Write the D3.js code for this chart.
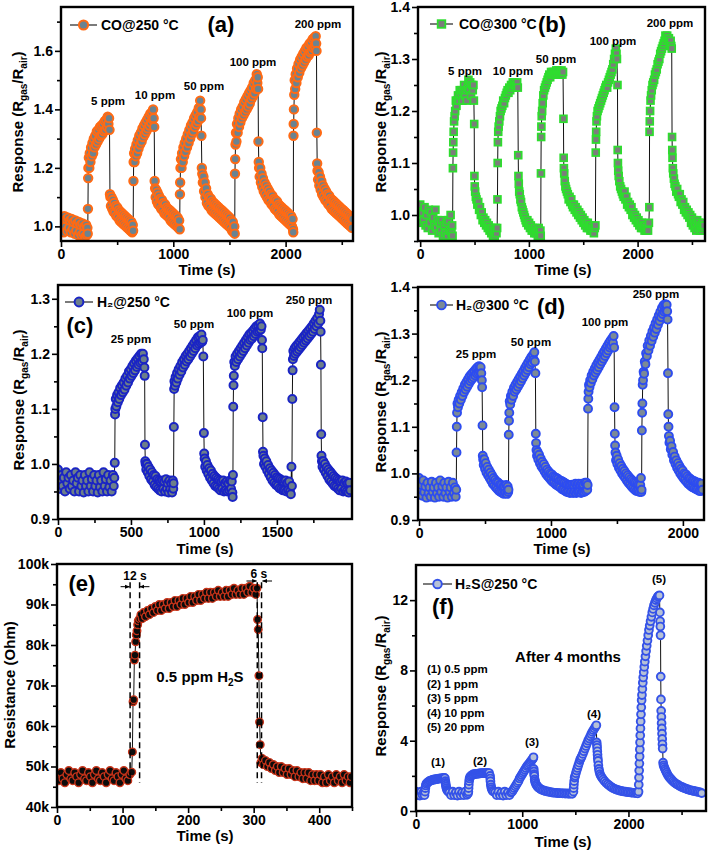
<!DOCTYPE html>
<html><head><meta charset="utf-8">
<script src="https://cdn.jsdelivr.net/npm/d3@7/dist/d3.min.js"></script>
<style>html,body{margin:0;padding:0;background:#fff;}svg{display:block;}</style>
</head><body>
<script>
// ---------------- DATA (time s, value) ----------------
const aData = [[0,1.03],[8,0.99],[16,1.02],[24,0.98],[32,1.035],[40,1.0],[48,1.025],[56,0.985],[64,1.03],[72,0.995],[80,1.02],[88,0.98],[96,1.025],[104,0.99],[112,1.015],[120,0.975],[128,1.02],[136,0.985],[144,1.01],[152,0.97],[160,1.015],[168,0.98],[176,1.005],[184,0.97],[192,1.01],[200,0.975],[208,1.0],[216,0.965],[224,1.005],[230,0.97],[235,0.995],[238,0.975],
[240,1.06],[242,1.165],[244,1.2],[248,1.235],[252,1.2],[256,1.25],[262,1.22],[268,1.27],[274,1.24],[280,1.285],[286,1.25],[292,1.3],[298,1.27],[305,1.31],[312,1.28],[319,1.325],[326,1.29],[333,1.33],[340,1.3],[347,1.34],[354,1.31],[361,1.345],[368,1.315],[375,1.35],[382,1.325],[389,1.36],[396,1.33],[403,1.365],[410,1.34],[416,1.375],[422,1.35],[428,1.37],[432,1.33],
[436,1.11],[440,1.1],[445,1.07],[450,1.1],[456,1.06],[462,1.09],[468,1.05],[474,1.08],[480,1.045],[487,1.07],[494,1.035],[501,1.065],[508,1.03],[515,1.055],[522,1.02],[529,1.05],[536,1.015],[543,1.045],[550,1.01],[557,1.04],[564,1.005],[571,1.035],[578,1.0],[585,1.03],[592,0.995],[599,1.025],[606,0.99],[613,1.02],[620,0.985],[627,1.015],[634,0.98],[639,1.005],[642,0.985],
[645,1.155],[647,1.22],[651,1.25],[655,1.22],[660,1.265],[666,1.24],[672,1.28],[678,1.25],[684,1.295],[690,1.265],[697,1.31],[704,1.28],[711,1.32],[718,1.29],[725,1.335],[732,1.305],[739,1.345],[746,1.315],[753,1.355],[760,1.325],[767,1.365],[774,1.335],[781,1.375],[788,1.345],[795,1.385],[802,1.355],[809,1.39],[815,1.365],[820,1.4],[825,1.37],[830,1.34],
[834,1.155],[838,1.13],[843,1.1],[848,1.125],[854,1.085],[860,1.115],[866,1.075],[872,1.105],[878,1.07],[885,1.095],[892,1.06],[899,1.09],[906,1.055],[913,1.08],[920,1.045],[927,1.075],[934,1.04],[941,1.065],[948,1.035],[955,1.06],[962,1.03],[969,1.055],[976,1.02],[983,1.05],[990,1.015],[997,1.045],[1004,1.01],[1011,1.04],[1018,1.005],[1025,1.035],[1032,1.0],[1039,1.03],[1046,0.995],[1052,1.02],[1057,0.99],
[1059,1.11],[1061,1.15],[1064,1.2],[1068,1.23],[1073,1.2],[1078,1.25],[1084,1.22],[1090,1.27],[1096,1.24],[1102,1.285],[1108,1.255],[1115,1.3],[1122,1.27],[1129,1.315],[1136,1.285],[1143,1.33],[1150,1.3],[1157,1.345],[1164,1.315],[1171,1.355],[1178,1.325],[1185,1.37],[1192,1.34],[1199,1.38],[1206,1.35],[1213,1.39],[1220,1.36],[1227,1.405],[1233,1.375],[1239,1.43],[1244,1.4],[1247,1.37],
[1250,1.31],[1254,1.2],[1258,1.18],[1263,1.15],[1268,1.17],[1274,1.12],[1280,1.15],[1286,1.1],[1292,1.13],[1299,1.08],[1306,1.11],[1313,1.07],[1320,1.1],[1327,1.065],[1334,1.095],[1341,1.055],[1348,1.085],[1355,1.05],[1362,1.08],[1369,1.045],[1376,1.075],[1383,1.04],[1390,1.07],[1397,1.035],[1404,1.065],[1411,1.03],[1418,1.06],[1425,1.025],[1432,1.055],[1439,1.02],[1446,1.05],[1453,1.015],[1460,1.045],[1467,1.01],[1474,1.04],[1481,1.005],[1488,1.035],[1495,1.0],[1502,1.03],[1509,0.995],[1516,1.02],[1523,0.985],[1530,1.015],[1537,0.98],[1543,1.0],[1547,0.975],
[1549,1.18],[1551,1.23],[1554,1.28],[1558,1.32],[1562,1.29],[1567,1.35],[1573,1.32],[1579,1.37],[1585,1.34],[1591,1.385],[1597,1.355],[1604,1.4],[1611,1.37],[1618,1.41],[1625,1.38],[1632,1.425],[1639,1.39],[1646,1.435],[1653,1.4],[1660,1.445],[1667,1.41],[1674,1.455],[1681,1.42],[1688,1.465],[1695,1.435],[1702,1.475],[1709,1.445],[1716,1.49],[1723,1.455],[1730,1.5],[1737,1.47],[1743,1.52],[1748,1.49],[1752,1.51],[1755,1.47],
[1758,1.29],[1761,1.22],[1764,1.2],[1769,1.17],[1774,1.2],[1780,1.15],[1786,1.18],[1792,1.135],[1798,1.165],[1805,1.12],[1812,1.15],[1819,1.11],[1826,1.14],[1833,1.1],[1840,1.13],[1847,1.09],[1854,1.12],[1861,1.085],[1868,1.11],[1875,1.075],[1882,1.105],[1889,1.07],[1896,1.095],[1903,1.06],[1910,1.09],[1917,1.055],[1924,1.085],[1931,1.05],[1938,1.075],[1945,1.04],[1952,1.07],[1959,1.035],[1966,1.065],[1973,1.03],[1980,1.06],[1987,1.025],[1994,1.055],[2001,1.02],[2008,1.05],[2015,1.015],[2022,1.045],[2029,1.01],[2036,1.04],[2043,1.005],[2050,1.035],[2057,1.0],[2062,1.025],[2066,0.99],[2068,0.98],
[2070,1.31],[2072,1.35],[2074,1.4],[2077,1.45],[2081,1.5],[2085,1.47],[2090,1.52],[2096,1.49],[2102,1.54],[2108,1.51],[2115,1.555],[2122,1.525],[2129,1.57],[2136,1.54],[2143,1.58],[2150,1.55],[2157,1.59],[2164,1.56],[2171,1.6],[2178,1.57],[2185,1.61],[2192,1.58],[2199,1.615],[2206,1.585],[2213,1.625],[2220,1.595],[2227,1.63],[2234,1.6],[2241,1.64],[2248,1.61],[2255,1.645],[2262,1.615],[2268,1.65],[2272,1.625],[2275,1.6],
[2278,1.32],[2281,1.215],[2284,1.19],[2289,1.16],[2294,1.185],[2300,1.14],[2306,1.17],[2312,1.125],[2318,1.155],[2325,1.11],[2332,1.14],[2339,1.1],[2346,1.13],[2353,1.09],[2360,1.12],[2367,1.085],[2374,1.11],[2381,1.075],[2388,1.105],[2395,1.07],[2402,1.095],[2409,1.06],[2416,1.09],[2423,1.055],[2430,1.085],[2437,1.05],[2444,1.08],[2451,1.045],[2458,1.075],[2465,1.04],[2472,1.07],[2479,1.035],[2486,1.065],[2493,1.03],[2500,1.06],[2507,1.025],[2514,1.055],[2521,1.02],[2528,1.05],[2535,1.015],[2542,1.045],[2549,1.01],[2556,1.04],[2563,1.005],[2570,1.035],[2577,1.0],[2584,1.03],[2591,0.995],[2597,1.025]];

const bData = [[0,1.02],[10,0.985],[20,1.005],[30,0.99],[40,1.015],[50,0.98],[60,1.0],[70,0.975],[80,1.01],[90,0.985],[100,1.005],[110,0.97],[120,0.995],[130,0.98],[140,1.01],[150,0.975],[160,0.99],[170,0.965],[180,0.985],[190,0.97],[200,0.99],[210,0.96],[220,0.98],[230,0.965],[240,0.985],[250,0.96],[260,0.99],[270,0.97],[280,1.0],[288,0.965],[294,0.98],[298,0.96],
[301,1.09],[303,1.12],[305,1.14],[308,1.16],[312,1.18],[317,1.19],[322,1.2],[328,1.22],[334,1.21],[340,1.22],[348,1.23],[356,1.22],[364,1.24],[372,1.23],[380,1.24],[388,1.22],[396,1.235],[404,1.25],[412,1.23],[420,1.24],[428,1.22],[436,1.245],[444,1.26],[452,1.24],[460,1.255],[468,1.23],[476,1.25],[484,1.24],[490,1.25],[494,1.22],
[497,1.175],[499,1.075],[502,1.055],[506,1.045],[512,1.035],[518,1.03],[526,1.02],[534,1.025],[542,1.01],[550,1.015],[558,1.0],[566,1.005],[574,0.99],[582,0.995],[590,0.985],[598,0.99],[606,0.98],[614,0.985],[622,0.975],[630,0.98],[638,0.97],[646,0.975],[654,0.965],[662,0.975],[670,0.96],[678,0.97],[686,0.96],[694,0.975],[702,0.965],[708,0.975],
[711,1.03],[713,1.1],[715,1.14],[718,1.16],[722,1.17],[728,1.18],[734,1.19],[740,1.2],[748,1.205],[756,1.21],[764,1.22],[772,1.215],[780,1.225],[788,1.23],[796,1.235],[804,1.24],[812,1.235],[820,1.245],[828,1.24],[836,1.25],[844,1.245],[852,1.255],[860,1.25],[868,1.255],[876,1.245],[884,1.25],[892,1.255],[898,1.245],
[902,1.115],[904,1.075],[907,1.06],[911,1.045],[916,1.04],[922,1.03],[928,1.025],[935,1.015],[942,1.01],[949,1.005],[956,1.0],[963,0.995],[970,0.99],[978,0.985],[986,0.99],[994,0.98],[1002,0.985],[1010,0.975],[1018,0.98],[1026,0.97],[1034,0.975],[1042,0.97],[1050,0.965],[1058,0.975],[1066,0.965],[1074,0.97],[1082,0.96],[1090,0.975],[1098,0.965],[1106,0.97],[1109,0.96],
[1111,1.08],[1113,1.15],[1115,1.17],[1118,1.19],[1122,1.2],[1127,1.215],[1133,1.23],[1140,1.24],[1148,1.245],[1156,1.25],[1164,1.255],[1172,1.26],[1180,1.265],[1188,1.27],[1196,1.265],[1204,1.275],[1212,1.27],[1220,1.275],[1228,1.27],[1236,1.275],[1244,1.27],[1252,1.278],[1260,1.272],[1268,1.278],[1276,1.27],[1284,1.275],[1292,1.27],[1300,1.278],[1308,1.27],[1314,1.275],
[1318,1.185],[1320,1.11],[1322,1.09],[1325,1.08],[1330,1.065],[1336,1.055],[1342,1.05],[1350,1.045],[1358,1.04],[1366,1.03],[1374,1.035],[1382,1.025],[1390,1.03],[1398,1.02],[1406,1.015],[1414,1.02],[1422,1.01],[1430,1.015],[1438,1.005],[1446,1.01],[1454,1.0],[1462,1.005],[1470,0.995],[1478,1.0],[1486,0.99],[1494,0.995],[1502,0.985],[1510,0.99],[1518,0.98],[1526,0.985],[1534,0.975],[1542,0.985],[1550,0.975],[1558,0.98],[1566,0.97],[1574,0.98],[1582,0.97],[1590,0.975],[1598,0.965],[1606,0.975],[1612,0.98],
[1615,1.12],[1617,1.145],[1619,1.16],[1622,1.18],[1626,1.19],[1632,1.2],[1640,1.205],[1648,1.21],[1656,1.215],[1664,1.22],[1672,1.225],[1680,1.23],[1688,1.235],[1696,1.24],[1704,1.245],[1712,1.25],[1720,1.245],[1728,1.255],[1736,1.26],[1744,1.265],[1752,1.27],[1760,1.275],[1768,1.28],[1776,1.29],[1784,1.3],[1792,1.31],[1800,1.32],[1806,1.31],[1810,1.3],
[1815,1.25],[1817,1.125],[1819,1.1],[1822,1.085],[1826,1.075],[1832,1.065],[1840,1.055],[1848,1.05],[1856,1.045],[1864,1.04],[1872,1.035],[1880,1.045],[1888,1.03],[1896,1.035],[1904,1.02],[1912,1.025],[1920,1.015],[1928,1.02],[1936,1.01],[1944,1.015],[1952,1.0],[1960,1.005],[1968,0.995],[1976,1.0],[1984,0.99],[1992,0.995],[2000,0.985],[2008,0.99],[2016,0.98],[2024,0.985],[2032,0.975],[2040,0.985],[2048,0.975],[2056,0.98],[2064,0.97],[2072,0.98],[2080,0.97],[2088,0.975],[2096,0.97],[2104,0.985],
[2108,1.015],[2110,1.16],[2112,1.18],[2115,1.2],[2119,1.22],[2124,1.23],[2130,1.24],[2137,1.25],[2144,1.255],[2152,1.26],[2160,1.27],[2168,1.275],[2176,1.28],[2184,1.29],[2192,1.295],[2200,1.3],[2208,1.31],[2216,1.315],[2224,1.32],[2232,1.325],[2240,1.33],[2248,1.335],[2256,1.345],[2264,1.34],[2272,1.345],[2280,1.335],[2288,1.34],[2296,1.33],[2304,1.335],[2310,1.325],[2314,1.32],
[2317,1.15],[2319,1.125],[2321,1.11],[2324,1.09],[2328,1.08],[2334,1.07],[2340,1.06],[2348,1.055],[2356,1.045],[2364,1.05],[2372,1.04],[2380,1.035],[2388,1.04],[2396,1.025],[2404,1.03],[2412,1.02],[2420,1.025],[2428,1.01],[2436,1.015],[2444,1.005],[2452,1.01],[2460,1.0],[2468,1.005],[2476,0.995],[2484,1.0],[2492,0.985],[2500,0.995],[2508,0.98],[2516,0.99],[2524,0.975],[2532,0.985],[2540,0.97],[2548,0.99],[2556,0.975],[2564,0.985],[2572,0.97],[2580,0.98],[2588,0.97],[2596,0.985],[2604,0.975],[2610,0.98]];

const cData = [[0,0.99],[8,0.97],[16,0.955],[24,0.98],[32,0.96],[40,0.975],[48,0.95],[56,0.985],[64,0.965],[72,0.975],[80,0.955],[88,0.98],[96,0.96],[104,0.97],[112,0.95],[120,0.985],[128,0.965],[136,0.975],[144,0.95],[152,0.98],[160,0.96],[168,0.97],[176,0.948],[184,0.98],[192,0.96],[200,0.97],[208,0.95],[216,0.985],[224,0.96],[232,0.972],[240,0.95],[248,0.98],[256,0.96],[264,0.97],[272,0.948],[280,0.98],[288,0.958],[296,0.97],[304,0.95],[312,0.985],[320,0.96],[328,0.972],[336,0.95],[344,0.98],[352,0.958],[360,0.97],[368,0.95],[376,0.98],[382,0.96],[386,0.975],
[389,1.002],[391,1.09],[393,1.1],[396,1.118],[400,1.105],[405,1.125],[410,1.112],[415,1.13],[420,1.118],[426,1.138],[432,1.125],[438,1.143],[444,1.13],[450,1.148],[456,1.135],[462,1.155],[468,1.142],[474,1.16],[480,1.148],[486,1.168],[492,1.155],[498,1.172],[504,1.16],[510,1.178],[516,1.165],[522,1.183],[528,1.17],[534,1.188],[540,1.176],[546,1.192],[552,1.18],[558,1.196],[564,1.184],[570,1.2],[576,1.186],[582,1.2],[588,1.19],[592,1.175],[594,1.16],
[596,1.035],[598,1.005],[601,1.0],[605,0.99],[610,1.0],[615,0.985],[620,0.995],[626,0.978],[632,0.99],[638,0.972],[644,0.985],[650,0.968],[656,0.98],[662,0.962],[668,0.978],[674,0.958],[680,0.972],[686,0.955],[692,0.97],[698,0.952],[704,0.968],[710,0.95],[716,0.97],[722,0.955],[728,0.968],[734,0.95],[740,0.972],[746,0.955],[752,0.965],[758,0.948],[764,0.97],[770,0.955],[776,0.965],[782,0.948],[787,0.97],[790,0.955],[792,0.965],
[794,1.067],[796,1.136],[798,1.15],[802,1.142],[806,1.158],[811,1.148],[816,1.165],[821,1.155],[827,1.172],[833,1.162],[839,1.178],[845,1.168],[851,1.185],[857,1.175],[863,1.19],[869,1.18],[875,1.196],[881,1.186],[887,1.2],[893,1.19],[899,1.205],[905,1.195],[911,1.21],[917,1.2],[923,1.215],[929,1.205],[935,1.22],[941,1.21],[947,1.225],[953,1.215],[959,1.23],[965,1.218],[971,1.232],[977,1.22],[983,1.235],[988,1.222],[992,1.225],[996,1.195],
[1000,1.056],[1002,1.019],[1005,1.01],[1009,0.995],[1014,1.005],[1019,0.988],[1024,0.998],[1030,0.982],[1036,0.992],[1042,0.975],[1048,0.988],[1054,0.97],[1060,0.982],[1066,0.965],[1072,0.978],[1078,0.96],[1084,0.975],[1090,0.958],[1096,0.972],[1102,0.955],[1108,0.97],[1114,0.952],[1120,0.968],[1126,0.955],[1132,0.97],[1138,0.95],[1144,0.965],[1150,0.952],[1156,0.968],[1162,0.95],[1168,0.965],[1174,0.952],[1180,0.97],[1186,0.955],[1191,0.968],[1195,0.948],[1197,0.94],[1199,0.98],
[1201,1.104],[1203,1.143],[1205,1.16],[1208,1.185],[1212,1.178],[1217,1.195],[1222,1.185],[1228,1.2],[1234,1.19],[1240,1.205],[1246,1.195],[1252,1.21],[1258,1.2],[1264,1.215],[1270,1.205],[1276,1.22],[1282,1.21],[1288,1.225],[1294,1.215],[1300,1.23],[1306,1.22],[1312,1.235],[1318,1.225],[1324,1.238],[1330,1.228],[1336,1.242],[1342,1.232],[1348,1.246],[1354,1.236],[1360,1.25],[1366,1.24],[1372,1.252],[1378,1.242],[1384,1.255],[1390,1.244],[1395,1.25],[1398,1.225],[1400,1.21],
[1403,1.085],[1405,1.022],[1408,1.015],[1412,1.0],[1417,1.01],[1422,0.995],[1428,1.005],[1434,0.988],[1440,0.998],[1446,0.982],[1452,0.992],[1458,0.976],[1464,0.988],[1470,0.97],[1476,0.984],[1482,0.966],[1488,0.98],[1494,0.962],[1500,0.976],[1506,0.96],[1512,0.974],[1518,0.956],[1524,0.972],[1530,0.954],[1536,0.97],[1542,0.952],[1548,0.968],[1554,0.952],[1560,0.97],[1566,0.95],[1572,0.966],[1578,0.952],[1584,0.968],[1590,0.95],[1596,0.945],[1600,0.995],[1603,0.96],
[1606,1.118],[1608,1.17],[1610,1.19],[1613,1.205],[1617,1.196],[1622,1.21],[1627,1.2],[1633,1.214],[1639,1.204],[1645,1.218],[1651,1.208],[1657,1.222],[1663,1.212],[1669,1.226],[1675,1.216],[1681,1.23],[1687,1.22],[1693,1.234],[1699,1.224],[1705,1.238],[1711,1.228],[1717,1.242],[1723,1.232],[1729,1.246],[1735,1.236],[1741,1.25],[1747,1.24],[1753,1.255],[1759,1.245],[1765,1.26],[1771,1.25],[1777,1.265],[1783,1.255],[1789,1.272],[1794,1.28],[1798,1.26],[1800,1.24],
[1802,1.18],[1804,1.054],[1806,1.015],[1809,1.005],[1813,0.995],[1818,1.005],[1823,0.99],[1829,1.0],[1835,0.984],[1841,0.994],[1847,0.978],[1853,0.99],[1859,0.972],[1865,0.986],[1871,0.968],[1877,0.982],[1883,0.964],[1889,0.978],[1895,0.96],[1901,0.975],[1907,0.958],[1913,0.972],[1919,0.955],[1925,0.97],[1931,0.952],[1937,0.968],[1943,0.955],[1949,0.97],[1955,0.95],[1961,0.966],[1967,0.952],[1973,0.968],[1979,0.95],[1985,0.965],[1991,0.948],[1997,0.966],[2003,0.952]];

const dData = [[0,0.99],[8,0.965],[16,0.975],[24,0.952],[32,0.985],[40,0.96],[48,0.972],[56,0.948],[64,0.98],[72,0.958],[80,0.97],[88,0.95],[96,0.982],[104,0.96],[112,0.97],[120,0.948],[128,0.98],[136,0.958],[144,0.97],[152,0.95],[160,0.985],[168,0.96],[176,0.972],[184,0.95],[192,0.98],[200,0.958],[208,0.97],[216,0.948],[224,0.982],[232,0.96],[240,0.97],[248,0.95],[256,0.98],[264,0.958],[272,0.97],[278,0.95],[282,0.965],
[284,1.045],[286,1.1],[288,1.13],[291,1.15],[295,1.142],[300,1.158],[305,1.15],[311,1.166],[317,1.158],[323,1.174],[329,1.166],[335,1.182],[341,1.174],[347,1.19],[353,1.18],[359,1.196],[365,1.186],[371,1.202],[377,1.192],[383,1.208],[389,1.198],[395,1.212],[401,1.202],[407,1.216],[413,1.206],[419,1.22],[425,1.21],[431,1.224],[437,1.214],[443,1.228],[449,1.216],[455,1.23],[461,1.218],[467,1.228],[472,1.215],[476,1.2],[478,1.185],
[481,1.103],[483,1.038],[486,1.03],[490,1.018],[495,1.03],[500,1.01],[505,1.022],[511,1.002],[517,1.014],[523,0.996],[529,1.008],[535,0.99],[541,1.002],[547,0.984],[553,0.996],[559,0.978],[565,0.99],[571,0.974],[577,0.986],[583,0.97],[589,0.982],[595,0.966],[601,0.98],[607,0.962],[613,0.976],[619,0.96],[625,0.975],[631,0.958],[637,0.972],[643,0.956],[649,0.972],[655,0.958],[661,0.975],[667,0.956],[672,0.972],[676,0.96],[678,0.965],
[680,1.083],[682,1.113],[684,1.13],[687,1.155],[691,1.148],[696,1.166],[701,1.158],[707,1.175],[713,1.166],[719,1.184],[725,1.175],[731,1.19],[737,1.18],[743,1.196],[749,1.186],[755,1.202],[761,1.192],[767,1.208],[773,1.198],[779,1.214],[785,1.204],[791,1.22],[797,1.21],[803,1.226],[809,1.216],[815,1.232],[821,1.222],[827,1.238],[833,1.228],[839,1.244],[845,1.234],[851,1.25],[857,1.238],[863,1.254],[869,1.244],[874,1.26],[878,1.24],[882,1.215],
[885,1.085],[887,1.065],[890,1.05],[894,1.038],[899,1.046],[904,1.03],[910,1.04],[916,1.022],[922,1.032],[928,1.015],[934,1.025],[940,1.01],[946,1.02],[952,1.004],[958,1.014],[964,0.998],[970,1.008],[976,0.994],[982,1.004],[988,0.99],[994,1.0],[1000,0.986],[1006,0.998],[1012,0.982],[1018,0.994],[1024,0.98],[1030,0.992],[1036,0.976],[1042,0.99],[1048,0.974],[1054,0.988],[1060,0.972],[1066,0.985],[1072,0.97],[1078,0.984],[1084,0.966],[1090,0.982],[1096,0.965],[1102,0.98],[1108,0.962],[1114,0.978],[1120,0.96],[1126,0.976],[1132,0.96],[1138,0.975],[1144,0.958],[1150,0.975],[1156,0.96],[1162,0.976],[1168,0.958],[1174,0.975],[1180,0.96],[1186,0.978],[1192,0.958],[1198,0.976],[1204,0.96],[1210,0.978],[1216,0.96],[1222,0.976],[1228,0.958],[1234,0.978],[1240,0.96],[1246,0.976],[1252,0.96],[1258,0.98],[1264,0.962],[1270,0.98],[1275,0.965],[1278,0.975],
[1281,1.139],[1283,1.16],[1285,1.175],[1288,1.19],[1292,1.185],[1297,1.2],[1302,1.194],[1308,1.21],[1314,1.202],[1320,1.218],[1326,1.21],[1332,1.225],[1338,1.216],[1344,1.232],[1350,1.222],[1356,1.238],[1362,1.228],[1368,1.244],[1374,1.234],[1380,1.25],[1386,1.24],[1392,1.256],[1398,1.246],[1404,1.262],[1410,1.252],[1416,1.268],[1422,1.258],[1428,1.274],[1434,1.264],[1440,1.28],[1446,1.27],[1452,1.285],[1458,1.274],[1464,1.29],[1470,1.28],[1475,1.295],[1479,1.27],
[1482,1.142],[1484,1.085],[1486,1.06],[1489,1.045],[1493,1.028],[1498,1.038],[1503,1.02],[1509,1.03],[1515,1.012],[1521,1.022],[1527,1.006],[1533,1.016],[1539,1.0],[1545,1.01],[1551,0.995],[1557,1.005],[1563,0.99],[1569,1.0],[1575,0.985],[1581,0.996],[1587,0.98],[1593,0.992],[1599,0.976],[1605,0.988],[1611,0.972],[1617,0.985],[1623,0.968],[1629,0.982],[1635,0.965],[1641,0.98],[1647,0.962],[1653,0.978],[1659,0.962],[1665,0.976],[1671,0.96],[1677,0.975],[1682,0.99],[1685,0.96],[1687,0.965],
[1689,1.092],[1691,1.13],[1693,1.15],[1695,1.19],[1698,1.2],[1702,1.218],[1706,1.214],[1711,1.24],[1716,1.234],[1721,1.258],[1727,1.252],[1733,1.274],[1739,1.264],[1745,1.285],[1751,1.274],[1757,1.295],[1763,1.284],[1769,1.305],[1775,1.293],[1781,1.313],[1787,1.302],[1793,1.322],[1799,1.31],[1805,1.33],[1811,1.319],[1817,1.339],[1823,1.327],[1829,1.347],[1835,1.335],[1841,1.355],[1847,1.342],[1853,1.361],[1859,1.347],[1865,1.363],[1871,1.35],[1877,1.362],[1881,1.348],[1884,1.33],
[1887,1.215],[1889,1.127],[1891,1.1],[1894,1.08],[1898,1.066],[1903,1.07],[1908,1.052],[1914,1.058],[1920,1.04],[1926,1.046],[1932,1.028],[1938,1.036],[1944,1.02],[1950,1.028],[1956,1.012],[1962,1.022],[1968,1.006],[1974,1.016],[1980,1.0],[1986,1.01],[1992,0.995],[1998,1.006],[2004,0.99],[2010,1.0],[2016,0.986],[2022,0.998],[2028,0.982],[2034,0.994],[2040,0.978],[2046,0.99],[2052,0.975],[2058,0.988],[2064,0.972],[2070,0.985],[2076,0.97],[2082,0.984],[2088,0.968],[2094,0.982],[2100,0.966],[2106,0.98],[2112,0.965],[2118,0.98],[2124,0.962],[2130,0.978],[2136,0.962],[2142,0.978],[2148,0.965]];

// resistance in kOhm
const eData = [[0,47.5],[3,46.5],[6,48.5],[9,47],[12,46],[15,48],[18,49],[21,47],[24,46.5],[27,48.5],[30,47.5],[33,46],[36,48],[39,49],[42,47],[45,46.5],[48,48.5],[51,47.5],[54,46],[57,48],[60,49],[63,47],[66,46.5],[69,48.5],[72,47.5],[75,46],[78,48],[81,49],[84,47],[87,46.5],[90,48.5],[93,47.5],[96,46],[99,48],[102,49],[105,47],[108,46.5],[111,48],
[114,48.6],[115,53.6],[116,66],[117,66.5],[118,76.3],[119,77.5],[120,80.8],[121,82.5],[122,83.5],[123,85],[124,86],[126,86.5],[128,87.5],[130,86.5],[132,88],[135,87],[138,88.5],[141,87.5],[144,89],[147,88],[150,89.5],[153,88.5],[156,90],[159,88.5],[162,90],[165,89],[168,90.5],[171,89],[174,90.5],[177,89.5],[180,91],[183,89.5],[186,91],[189,90],[192,91.5],[195,90],[198,91.5],[201,90.5],[204,92],[207,90.5],[210,92],[213,91],[216,92.5],[219,91],[222,92.5],[225,91.5],[228,93],[231,91.5],[234,93],[237,91.5],[240,93],[243,92],[246,93.5],[249,92],[252,93],[255,92],[258,93.5],[261,92],[264,93.5],[267,92.5],[270,94],[273,92.5],[276,93.5],[279,92.5],[282,94],[285,92.5],[288,94],[291,93],[294,94.5],[297,93],[300,94],[303,92.5],[305,94],
[306,86.3],[307,83.8],[308,72.4],[309,61],[310,55.4],[311,51],[313,52],[315,50.5],[318,51.5],[321,50],[324,51],[327,49.5],[330,50.5],[333,49],[336,50],[339,48.5],[342,50],[345,48.5],[348,49.5],[351,48],[354,49.5],[357,48],[360,49],[363,47.5],[366,49],[369,47.5],[372,48.5],[375,47],[378,48.5],[381,47],[384,48.5],[387,46.5],[390,48],[393,46.5],[396,48],[399,46.5],[402,48],[405,46],[408,47.5],[411,46],[414,48],[417,46.5],[420,47.5],[423,46],[426,48],[429,46.5],[432,47.5],[435,46],[438,48],[441,46.5],[444,47.5],[447,46],[449,47.5]];

const fData = [[0,1.1],[12,0.9],[24,1.05],[36,0.88],[48,1.1],[60,0.92],[72,1.05],[80,0.9],
[85,1.1],[88,1.3],[92,1.45],[98,1.55],[105,1.6],[115,1.65],[125,1.7],[135,1.72],[145,1.75],[155,1.77],[165,1.78],[175,1.8],[185,1.8],[195,1.82],[205,1.83],[215,1.84],[225,1.85],[235,1.86],[245,1.86],[255,1.87],[265,1.88],[272,1.87],
[276,1.7],[278,1.6],[280,1.5],[283,1.4],[287,1.3],[292,1.2],[298,1.15],[305,1.1],[315,1.05],[330,0.9],[345,1.1],[360,0.9],[375,1.05],[390,0.88],[405,1.1],[420,0.9],[435,1.05],[450,0.9],[465,1.1],[480,0.92],[490,1.0],
[493,1.1],[495,1.3],[497,1.5],[500,1.7],[504,1.85],[510,1.95],[518,2.0],[528,2.05],[538,2.08],[548,2.1],[558,2.1],[568,2.12],[578,2.12],[588,2.13],[598,2.14],[608,2.14],[618,2.15],[628,2.15],[638,2.16],[648,2.15],[658,2.16],[668,2.16],[678,2.15],[688,2.16],
[697,2.0],[699,1.85],[701,1.7],[704,1.5],[708,1.35],[713,1.25],[720,1.15],[730,1.1],[745,1.05],[760,0.9],[775,1.1],[790,0.9],[805,1.05],[820,0.88],[835,1.1],[850,0.9],[865,1.05],[880,0.9],[895,1.05],
[905,1.1],[915,1.2],[925,1.3],[935,1.4],[945,1.5],[955,1.6],[965,1.7],[975,1.85],[985,1.95],[995,2.05],[1005,2.15],[1015,2.25],[1025,2.35],[1035,2.45],[1045,2.55],[1055,2.62],[1065,2.7],[1075,2.78],[1085,2.86],[1095,2.93],[1103,3.0],[1106,3.06],
[1108,2.4],[1110,2.25],[1112,2.1],[1114,2.0],[1117,1.8],[1120,1.7],[1125,1.6],[1132,1.5],[1140,1.42],[1150,1.35],[1160,1.3],[1172,1.25],[1185,1.2],[1200,1.17],[1215,1.14],[1230,1.12],[1245,1.1],[1260,1.08],[1275,1.06],[1290,1.05],[1305,1.04],[1320,1.03],[1335,1.02],[1350,1.02],[1365,1.01],[1380,1.0],[1395,1.0],[1410,0.99],[1425,1.0],[1440,0.98],[1455,1.0],[1470,0.98],
[1482,1.1],[1484,1.3],[1486,1.5],[1489,1.7],[1493,1.9],[1498,2.0],[1505,2.15],[1512,2.3],[1520,2.45],[1528,2.6],[1536,2.75],[1544,2.9],[1552,3.0],[1560,3.1],[1570,3.25],[1580,3.4],[1590,3.55],[1600,3.7],[1610,3.85],[1620,4.0],[1630,4.12],[1640,4.25],[1650,4.38],[1660,4.5],[1670,4.6],[1680,4.7],[1690,4.8],[1698,4.88],
[1701,3.9],[1703,3.75],[1705,3.6],[1707,3.4],[1709,3.2],[1711,3.0],[1714,2.85],[1717,2.6],[1721,2.4],[1726,2.25],[1732,2.1],[1740,2.0],[1750,1.9],[1762,1.8],[1775,1.7],[1790,1.6],[1805,1.52],[1820,1.45],[1835,1.38],[1850,1.32],[1865,1.27],[1880,1.23],[1895,1.2],[1910,1.17],[1925,1.15],[1940,1.13],[1955,1.11],[1970,1.1],[1985,1.08],[2000,1.07],[2015,1.06],[2030,1.05],[2045,1.04],[2060,1.03],[2075,1.02],[2088,1.0],
[2095,1.1],[2097,1.5],[2099,1.9],[2101,2.3],[2103,2.7],[2105,3.1],[2107,3.5],[2109,3.9],[2111,4.3],[2113,4.7],[2115,5.1],[2118,5.5],[2121,5.9],[2124,6.3],[2127,6.6],[2131,6.95],[2135,7.3],[2139,7.6],[2144,7.9],[2149,8.2],[2154,8.5],[2160,8.8],[2166,9.1],[2172,9.4],[2179,9.7],[2186,10.0],[2193,10.3],[2200,10.55],[2208,10.8],[2216,11.05],[2224,11.3],[2232,11.5],[2240,11.7],[2249,11.85],[2258,12.0],[2267,12.1],[2276,12.2],[2285,12.25],[2292,12.27],
[2296,11.3],[2298,10.8],[2300,10.5],[2302,10.0],[2304,7.65],[2306,6.35],[2308,5.7],[2310,5.35],[2312,5.0],[2314,4.7],[2316,4.4],[2318,4.1],[2320,3.8],[2322,3.55],[2326,2.75],[2330,2.6],[2336,2.5],[2343,2.4],[2350,2.3],[2358,2.2],[2366,2.1],[2375,2.0],[2385,1.92],[2395,1.85],[2406,1.78],[2418,1.7],[2430,1.63],[2443,1.57],[2456,1.52],[2470,1.47],[2484,1.42],[2498,1.38],[2512,1.34],[2526,1.3],[2540,1.27],[2555,1.24],[2570,1.21],[2585,1.18],[2600,1.16],[2615,1.14],[2630,1.12],[2645,1.1],[2660,1.08],[2675,1.06],[2690,1.02]];

// ---------------- TEXT / TICKS ----------------
const aLabels = ["5 ppm","10 ppm","50 ppm","100 ppm","200 ppm"];
const bLabels = ["5 ppm","10 ppm","50 ppm","100 ppm","200 ppm"];
const cLabels = ["25 ppm","50 ppm","100 ppm","250 ppm"];
const dLabels = ["25 ppm","50 ppm","100 ppm","250 ppm"];
const fLabels = ["(1)","(2)","(3)","(4)","(5)"];
const fList = ["(1) 0.5 ppm","(2) 1 ppm","(3) 5 ppm","(4) 10 ppm","(5) 20 ppm"];
const legends = {a:"CO@250 °C", b:"CO@300 °C", c:"H₂@250 °C", d:"H₂@300 °C", f:"H₂S@250 °C"};

const aXTicks = [0,1000,2000], aXMinor = [500,1500,2500], aYTicks = [1.0,1.2,1.4,1.6], aYMinor = [1.1,1.3,1.5,1.7];
const bXTicks = [0,1000,2000], bXMinor = [500,1500,2500], bYTicks = [1.0,1.1,1.2,1.3,1.4], bYMinor = [0.95,1.05,1.15,1.25,1.35];
const cXTicks = [0,500,1000,1500], cXMinor = [250,750,1250,1750], cYTicks = [0.9,1.0,1.1,1.2,1.3], cYMinor = [0.95,1.05,1.15,1.25];
const dXTicks = [0,1000,2000], dXMinor = [500,1500], dYTicks = [0.9,1.0,1.1,1.2,1.3,1.4], dYMinor = [0.95,1.05,1.15,1.25,1.35];
const eXTicks = [0,100,200,300,400], eXMinor = [50,150,250,350,450], eYTicks = [40,50,60,70,80,90,100], eYMinor = [45,55,65,75,85,95];
const fXTicks = [0,1000,2000], fXMinor = [500,1500,2500], fYTicks = [0,4,8,12], fYMinor = [2,6,10];

const eDashTimes = [111.5, 126, 305.5, 312];
const eArrows = [[97,110.5,94.4],[141,126.5,94.4],[289,304.5,95.8],[328,313.5,95.8]];
const eNotes = [["12 s",119,96.0],["6 s",308,96.5]];

// ---------------- DRAWING ----------------
const FONT = "'Liberation Sans', Arial, Helvetica, sans-serif";
const svg = d3.select("body").append("svg").attr("width",710).attr("height",852)
  .attr("font-family",FONT);
const defs = svg.append("defs");
defs.append("marker").attr("id","arr").attr("viewBox","0 0 10 10").attr("refX",9).attr("refY",5)
  .attr("markerWidth",5).attr("markerHeight",5).attr("orient","auto")
  .append("path").attr("d","M0,1 L10,5 L0,9 Z").attr("fill","#000");

const respTitle = [["Response (R",0],["gas",1],["/R",0],["air",1],[")",0]];

const panels = [
 {id:"a", L:61,T:7,R:353,B:241, xd:[0,2600], yd:[0.95,1.75], xt:aXTicks, xm:aXMinor, yt:aYTicks, ym:aYMinor, yf:d3.format(".1f"),
  data:aData, shape:"circle", r:4.2, fill:"#6a8391", stroke:"#ff6a14", sw:2.0,
  leg:[70,97,25,101,30], tag:[221,32,"(a)"], labels:aLabels, lpos:[[108,105],[155,99],[204,90],[253,66],[318,28]],
  xtitle:[207,275], ytitle:[23,122,respTitle]},
 {id:"b", L:418,T:7,R:705,B:241, xd:[-20,2620], yd:[0.95,1.4], xt:bXTicks, xm:bXMinor, yt:bYTicks, ym:bYMinor, yf:d3.format(".1f"),
  data:bData, shape:"square", r:3.4, fill:"#7c7c7c", stroke:"#2edc2e", sw:1.8,
  leg:[430,453,24,459,29], tag:[552,32,"(b)"], labels:bLabels, lpos:[[465,75],[513,75],[556,63],[613,45],[670,27]],
  xtitle:[563,275], ytitle:[386,122,respTitle]},
 {id:"c", L:58,T:285,R:352,B:519, xd:[0,2015], yd:[0.9,1.325], xt:cXTicks, xm:cXMinor, yt:cYTicks, ym:cYMinor, yf:d3.format(".1f"),
  data:cData, shape:"circle", r:4.0, fill:"#6d7f8a", stroke:"#1a24c4", sw:2.0,
  leg:[65,93,302,97,307], tag:[80,333,"(c)"], labels:cLabels, lpos:[[131,343],[194,328],[250,317],[309,304]],
  xtitle:[205,554], ytitle:[24,400,respTitle]},
 {id:"d", L:418,T:287,R:704,B:520, xd:[-8,2160], yd:[0.9,1.4], xt:dXTicks, xm:dXMinor, yt:dYTicks, ym:dYMinor, yf:d3.format(".1f"),
  data:dData, shape:"circle", r:4.0, fill:"#7b8a96", stroke:"#2d4cf0", sw:1.9,
  leg:[430,453,305,456,310], tag:[551,314,"(d)"], labels:dLabels, lpos:[[476,358],[531,346],[605,326],[656,298]],
  xtitle:[562,554], ytitle:[386,402,respTitle]},
 {id:"e", L:57,T:564,R:352,B:807, xd:[0,450], yd:[40,100], xt:eXTicks, xm:eXMinor, yt:eYTicks, ym:eYMinor, yf:d=>d+"k",
  data:eData, shape:"circle", r:3.8, fill:"#0c0c0c", stroke:"#c8341a", sw:1.4,
  leg:null, tag:[82,591,"(e)"], labels:[], lpos:[],
  xtitle:[205,841], ytitle:[15,685,[["Resistance (Ohm)",0]]]},
 {id:"f", L:416,T:565,R:706,B:811, xd:[0,2730], yd:[0,14], xt:fXTicks, xm:fXMinor, yt:fYTicks, ym:fYMinor, yf:d3.format("d"),
  data:fData, shape:"circle", r:3.9, fill:"#b6c1d6", stroke:"#3452e8", sw:1.9,
  leg:[423,452,584,455,589], tag:[443,614,"(f)"], labels:fLabels, lpos:[[438,766],[480,765],[532,746],[594,718],[659,583]],
  xtitle:[563,847], ytitle:[386,686,respTitle]}
];

function drawMarker(sel, shape, r, fill, stroke, sw) {
  if (shape === "square") {
    sel.append("rect").attr("x",d=>d.px-r).attr("y",d=>d.py-r).attr("width",2*r).attr("height",2*r)
      .attr("fill",fill).attr("stroke",stroke).attr("stroke-width",sw);
  } else {
    sel.append("circle").attr("cx",d=>d.px).attr("cy",d=>d.py).attr("r",r)
      .attr("fill",fill).attr("stroke",stroke).attr("stroke-width",sw);
  }
}

panels.forEach(p => {
  const x = d3.scaleLinear().domain(p.xd).range([p.L,p.R]);
  const y = d3.scaleLinear().domain(p.yd).range([p.B,p.T]);
  const g = svg.append("g");
  defs.append("clipPath").attr("id","clip-"+p.id).append("rect")
    .attr("x",p.L).attr("y",p.T).attr("width",p.R-p.L).attr("height",p.B-p.T);
  const plot = g.append("g").attr("clip-path",`url(#clip-${p.id})`);

  plot.append("path").datum(p.data)
    .attr("d", d3.line().x(d=>x(d[0])).y(d=>y(d[1])))
    .attr("fill","none").attr("stroke","#111").attr("stroke-width",1);

  const pts = p.data.map(d=>({px:x(d[0]), py:y(d[1])}));
  const mk = plot.selectAll("g.m").data(pts).join("g").attr("class","m");
  drawMarker(mk, p.shape, p.r, p.fill, p.stroke, p.sw);

  // axes
  const styleAxis = a => {
    a.select(".domain").remove();
    a.selectAll("line").attr("stroke","#000").attr("stroke-width",1.6);
    a.selectAll("text").attr("font-family",FONT).attr("font-size",14).attr("font-weight","bold").attr("fill","#000");
  };
  g.append("g").attr("transform",`translate(0,${p.B})`)
    .call(d3.axisBottom(x).tickValues(p.xt).tickSize(6).tickPadding(2).tickFormat(d3.format("d"))).call(styleAxis);
  g.append("g").attr("transform",`translate(0,${p.B})`)
    .call(d3.axisBottom(x).tickValues(p.xm).tickSize(4).tickFormat("")).call(styleAxis);
  g.append("g").attr("transform",`translate(${p.L},0)`)
    .call(d3.axisLeft(y).tickValues(p.yt).tickSize(6).tickPadding(2).tickFormat(p.yf)).call(styleAxis);
  g.append("g").attr("transform",`translate(${p.L},0)`)
    .call(d3.axisLeft(y).tickValues(p.ym).tickSize(4).tickFormat("")).call(styleAxis);

  g.append("rect").attr("x",p.L).attr("y",p.T).attr("width",p.R-p.L).attr("height",p.B-p.T)
    .attr("fill","none").attr("stroke","#000").attr("stroke-width",2.4);

  // titles
  g.append("text").attr("x",p.xtitle[0]).attr("y",p.xtitle[1]).attr("text-anchor","middle")
    .attr("font-size",15).attr("font-weight","bold").text("Time (s)");
  const yt = g.append("text").attr("transform",`translate(${p.ytitle[0]},${p.ytitle[1]}) rotate(-90)`)
    .attr("text-anchor","middle").attr("font-size",15).attr("font-weight","bold");
  let prevSub = 0;
  p.ytitle[2].forEach(([t,sub]) => {
    const ts = yt.append("tspan").text(t);
    if (sub && !prevSub) ts.attr("dy",4).attr("font-size",10);
    else if (!sub && prevSub) ts.attr("dy",-4);
    else if (sub) ts.attr("font-size",10);
    prevSub = sub;
  });

  // legend
  if (p.leg) {
    const [x1,x2,ly,tx,ty] = p.leg;
    g.append("line").attr("x1",x1).attr("x2",x2).attr("y1",ly).attr("y2",ly).attr("stroke","#333").attr("stroke-width",1.3);
    drawMarker(g.append("g").datum({px:(x1+x2)/2, py:ly}), p.shape, p.r+0.4, p.fill, p.stroke, p.sw);
    g.append("text").attr("x",tx).attr("y",ty).attr("font-size",14).attr("font-weight","bold").text(legends[p.id]);
  }
  g.append("text").attr("x",p.tag[0]).attr("y",p.tag[1]).attr("text-anchor","middle")
    .attr("font-size",22).attr("font-weight","bold").text(p.tag[2]);
  p.labels.forEach((t,i) => {
    g.append("text").attr("x",p.lpos[i][0]).attr("y",p.lpos[i][1]).attr("text-anchor","middle")
      .attr("font-size",11.5).attr("font-weight","bold").text(t);
  });

  if (p.id === "e") {
    eDashTimes.forEach(t => {
      g.append("line").attr("x1",x(t)).attr("x2",x(t)).attr("y1",y(95.5)).attr("y2",y(46))
        .attr("stroke","#000").attr("stroke-width",1.5).attr("stroke-dasharray","6,4");
    });
    eArrows.forEach(([t1,t2,v]) => {
      g.append("line").attr("x1",x(t1)).attr("x2",x(t2)).attr("y1",y(v)).attr("y2",y(v))
        .attr("stroke","#000").attr("stroke-width",1).attr("marker-end","url(#arr)");
    });
    eNotes.forEach(([t,tt,v]) => {
      g.append("text").attr("x",x(tt)).attr("y",y(v)).attr("text-anchor","middle")
        .attr("font-size",12).attr("font-weight","bold").text(t);
    });
    const nt = g.append("text").attr("x",200).attr("y",682).attr("text-anchor","middle")
      .attr("font-size",15).attr("font-weight","bold");
    nt.append("tspan").text("0.5 ppm H");
    nt.append("tspan").attr("dy",4).attr("font-size",10).text("2");
    nt.append("tspan").attr("dy",-4).text("S");
  }
  if (p.id === "f") {
    g.append("text").attr("x",568).attr("y",662).attr("text-anchor","middle")
      .attr("font-size",15).attr("font-weight","bold").text("After 4 months");
    fList.forEach((t,i) => {
      g.append("text").attr("x",427).attr("y",673 + i*14.6).attr("font-size",11.5).attr("font-weight","bold").text(t);
    });
  }
});
</script>
</body></html>
